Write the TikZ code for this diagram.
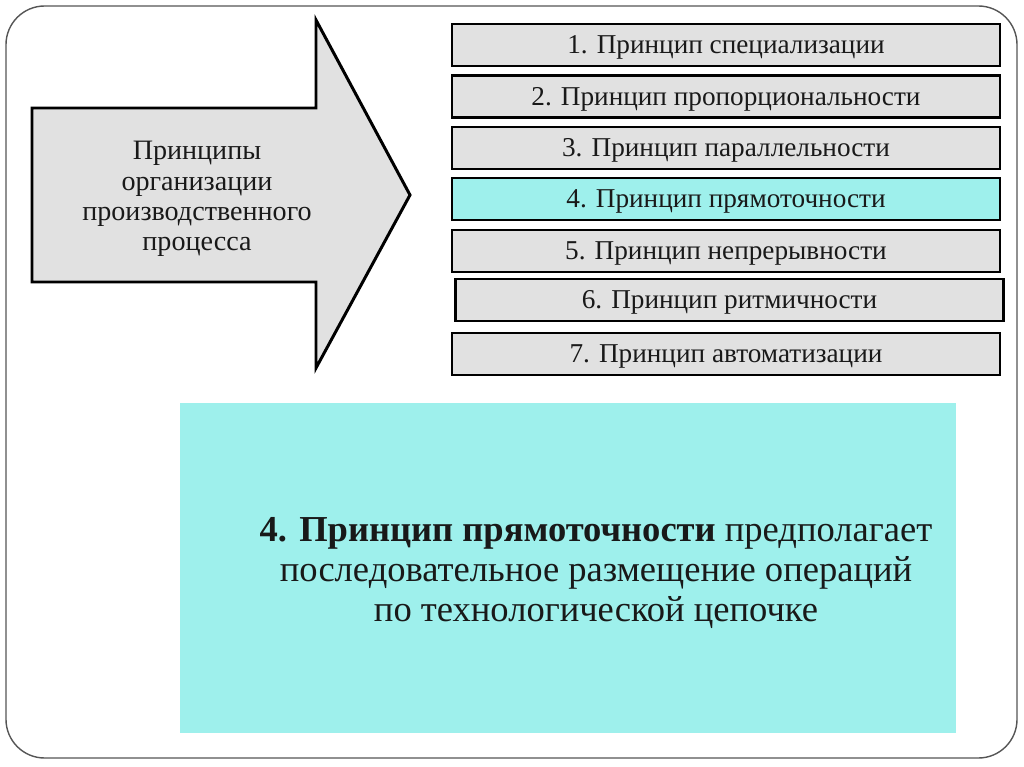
\documentclass[tikz,border=0pt]{standalone}
\usepackage{fontspec}
\setmainfont{Liberation Serif}
\definecolor{boxgray}{HTML}{E1E1E1}
\definecolor{flowcyan}{HTML}{9EF0EC}
\definecolor{framegray}{HTML}{555555}
\begin{document}
\begin{tikzpicture}[x=0.02cm,y=-0.02cm,line join=miter,
	principle/.style={draw=black,line width=1.6pt,fill=boxgray,minimum width=10.96cm,minimum height=0.84cm,inner sep=0pt,text height=11pt,text depth=1pt,font=\fontsize{15.5}{17}\selectfont,text=black!90}]
	\useasboundingbox (0,0) rectangle (1024,767);
	% outer frame
	\draw[framegray,line width=0.8pt,rounded corners=22pt] (6,6) rectangle (1017,758);
	% big arrow
	\draw[line width=1.7pt,fill=boxgray] (32,108) coordinate (T1) -- (316,108) -- (316,20) coordinate (H1) -- (410,195) coordinate (Tip) -- (316,368) coordinate (H2) -- (316,282) -- (32,282) coordinate (T2) -- cycle;
	\node[align=center,font=\fontsize{16}{17.3}\selectfont,text=black!90] (arrowtext) at (197,199) {Принципы\\организации\\производственного\\процесса};
	% list of principles
	\foreach \n/\x/\y/\lab in {
		1/726/45/Принцип специализации, 2/726/96.5/Принцип пропорциональности, 3/726/148/Принцип параллельности,
		4/726/199/Принцип прямоточности, 5/726/251/Принцип непрерывности, 6/729.5/300/Принцип ритмичности,
		7/726/354/Принцип автоматизации
	} {
		\node[principle] (p\n) at (\x,\y) {\n. \lab};
	}
	\node[principle,fill=flowcyan] at (p4) {4. Принцип прямоточности};
	% explanation
	\fill[flowcyan] (180,403) coordinate (E1) rectangle (956,733) coordinate (E2);
	\node[align=center,font=\fontsize{20.8}{23}\selectfont,text=black!90] (explain) at (596,573)
		{\textbf{4. Принцип прямоточности} предполагает\\последовательное размещение операций\\по технологической цепочке};
\end{tikzpicture}
\end{document}
